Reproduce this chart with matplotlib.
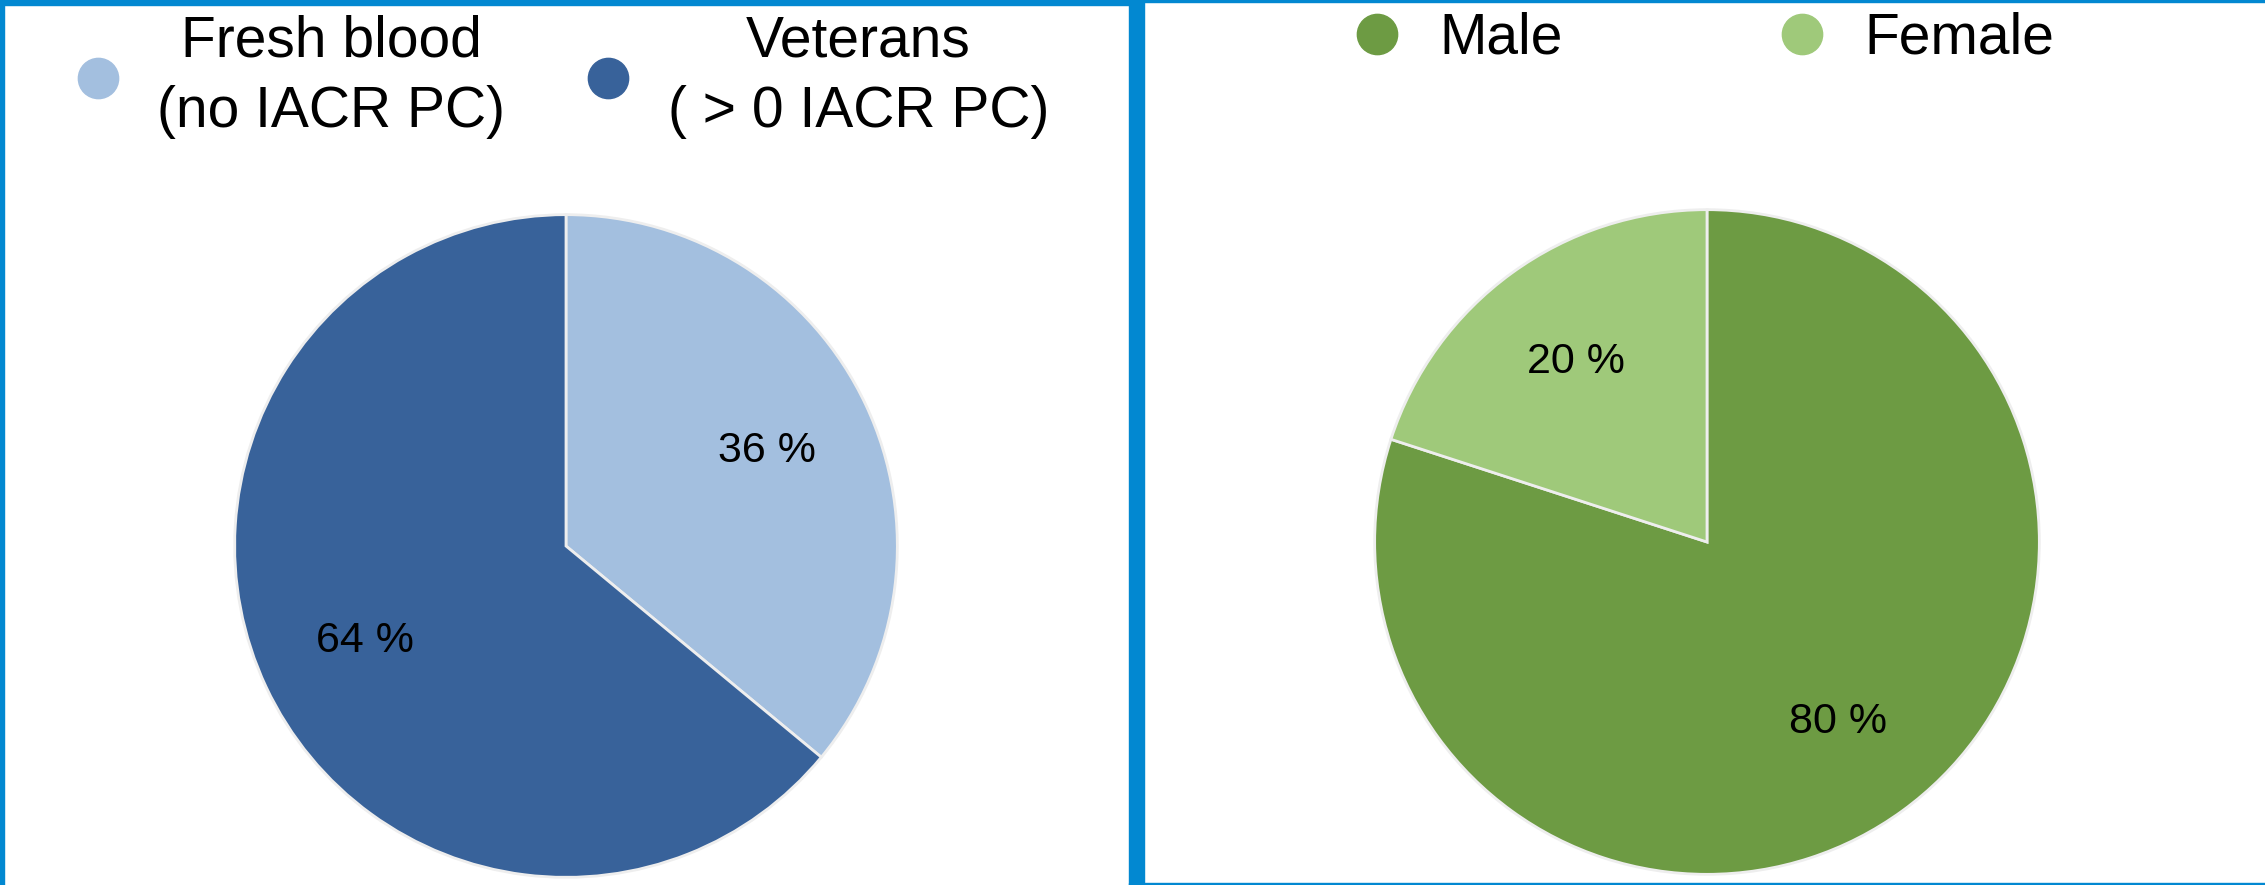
import matplotlib.pyplot as plt
from matplotlib.lines import Line2D
from matplotlib.patches import Rectangle

plt.rcParams['font.family'] = ['Liberation Sans', 'DejaVu Sans']

# data
pc_labels = ["Fresh blood\n(no IACR PC)", "Veterans\n( > 0 IACR PC)"]
pc_values = [36, 64]
pc_colors = ["#A3BFDF", "#38629A"]

gender_labels = ["Male", "Female"]
gender_values = [80, 20]
gender_colors = ["#6D9B43", "#9FC97A"]

W, H = 2265, 885
fig = plt.figure(figsize=(W / 100, H / 100), dpi=100)
fig.patch.set_facecolor("white")


def px_axes(cx, cy, r):
    # axes box in figure fractions from pixel centre / radius
    return fig.add_axes([(cx - r) / W, (H - cy - r) / H, 2 * r / W, 2 * r / H])


def draw_pie(ax, values, colors):
    ax.pie(values, colors=colors, startangle=90, counterclock=False,
           autopct=lambda p: f"{p:.0f} %", pctdistance=0.67,
           wedgeprops=dict(edgecolor="#eeeeee", linewidth=2),
           textprops=dict(fontsize=31, color="black"))
    ax.set_xlim(-1.005, 1.005)
    ax.set_ylim(-1.005, 1.005)
    ax.set_aspect("equal")
    ax.axis("off")


ax1 = px_axes(566, 546, 333)
draw_pie(ax1, pc_values, pc_colors)

ax2 = px_axes(1707, 542, 334)
draw_pie(ax2, gender_values, gender_colors)


def handles(colors):
    return [Line2D([], [], linestyle="none", marker="o", markersize=29,
                   markerfacecolor=c, markeredgecolor=c) for c in colors]


leg1 = fig.legend(handles(pc_colors), pc_labels, loc="center",
                  bbox_to_anchor=(562 / W, 1 - 77 / H), ncol=2, frameon=False,
                  fontsize=41, handlelength=0.8, handletextpad=0.65,
                  columnspacing=1.4, borderpad=0, borderaxespad=0)
for t in leg1.get_texts():
    t.set_multialignment("center")
    t.set_linespacing(1.4)

fig.legend(handles(gender_colors), gender_labels, loc="center",
           bbox_to_anchor=(1704 / W, 1 - 39 / H), ncol=2, frameon=False,
           fontsize=41, handlelength=0.8, handletextpad=0.7,
           columnspacing=3.8, borderpad=0, borderaxespad=0)

# blue frame around the two panels
frame = "#0288D1"
for x, y, w, h in [(0, 0, 4, H), (0, H - 5, 1135, 5), (1129, 0, 15, H),
                   (1129, H - 2, W - 1129, 2), (1129, 0, W - 1129, 2)]:
    fig.patches.append(Rectangle((x / W, y / H), w / W, h / H,
                                 transform=fig.transFigure, color=frame,
                                 zorder=10))

fig.savefig("out.png", dpi=100)
